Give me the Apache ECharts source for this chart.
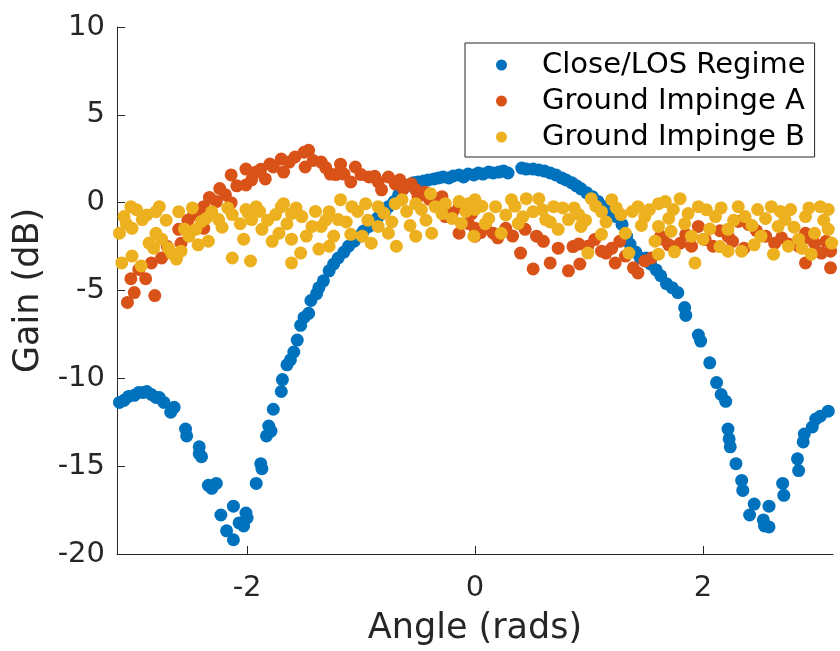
<!DOCTYPE html>
<html>
<head>
<meta charset="utf-8">
<script src="https://cdn.jsdelivr.net/npm/echarts@6/dist/echarts.min.js"></script>
<style>
html,body{margin:0;padding:0;background:#fff;}
#chart{width:840px;height:651px;}
</style>
</head>
<body>
<div id="chart"></div>
<script>
// Series names
const seriesNames = ['Close/LOS Regime', 'Ground Impinge A', 'Ground Impinge B'];
// Tick labels
const xTickValues = [-2, 0, 2];
const yTicks = [-20, -15, -10, -5, 0, 5, 10];

// Close/LOS Regime: [angle (rad), gain (dB)]
const closeLOS = [
[-3.12,-11.37],[-3.08,-11.25],[-3.04,-11.03],[-2.99,-10.97],[-2.95,-10.80],[-2.91,-10.80],[-2.88,-10.75],
[-2.84,-10.92],[-2.80,-11.09],[-2.77,-11.09],[-2.73,-11.37],[-2.67,-11.93],[-2.64,-11.65],[-2.54,-12.89],
[-2.53,-13.28],[-2.42,-13.90],[-2.42,-14.29],[-2.40,-14.46],[-2.34,-16.09],[-2.31,-16.26],[-2.27,-15.98],
[-2.23,-17.78],[-2.18,-18.68],[-2.12,-19.19],[-2.12,-17.28],[-2.07,-18.23],[-2.03,-18.40],[-2.01,-17.67],
[-2.00,-17.95],[-1.92,-15.98],[-1.88,-14.86],[-1.87,-15.14],[-1.83,-13.28],[-1.81,-12.72],[-1.79,-13.00],
[-1.77,-11.76],[-1.70,-10.75],[-1.69,-10.07],[-1.65,-9.23],[-1.62,-8.95],[-1.59,-8.50],[-1.56,-7.82],
[-1.53,-6.98],[-1.50,-6.53],[-1.46,-6.30],[-1.44,-5.57],[-1.39,-5.18],[-1.37,-4.84],[-1.33,-4.45],
[-1.28,-3.88],[-1.24,-3.49],[-1.20,-3.15],[-1.15,-2.81],[-1.11,-2.48],[-1.06,-2.19],[-1.02,-1.91],
[-0.98,-1.63],[-0.93,-1.35],[-0.91,-1.13],[-0.86,-0.90],[-0.83,-0.68],[-0.79,-0.51],[-0.76,-0.23],
[-0.71,0.06],[-0.67,0.45],[-0.63,0.79],[-0.58,1.01],[-0.54,1.13],[-0.50,1.18],[-0.45,1.24],[-0.41,1.29],
[-0.36,1.35],[-0.32,1.41],[-0.28,1.46],[-0.23,1.41],[-0.19,1.52],[-0.14,1.58],[-0.10,1.46],[-0.06,1.63],
[-0.01,1.58],[0.03,1.69],[0.07,1.63],[0.12,1.74],[0.16,1.69],[0.21,1.74],[0.25,1.80],[0.29,1.69],
[0.41,1.97],[0.45,1.91],[0.51,1.91],[0.56,1.86],[0.61,1.80],[0.66,1.69],[0.71,1.58],[0.76,1.41],
[0.80,1.29],[0.85,1.13],[0.89,0.96],[0.93,0.79],[0.98,0.56],[1.03,0.34],[1.08,0.06],[1.13,-0.23],
[1.19,-0.45],[1.24,-0.79],[1.29,-1.24],[1.33,-1.91],[1.36,-2.36],[1.41,-2.81],[1.45,-3.15],[1.50,-3.15],
[1.54,-3.49],[1.59,-3.83],[1.63,-4.16],[1.68,-4.61],[1.73,-4.84],[1.78,-5.12],[1.84,-5.97],[1.85,-6.42],
[1.96,-7.54],[1.98,-7.88],[2.06,-9.12],[2.12,-10.24],[2.16,-10.92],[2.20,-11.31],[2.22,-12.89],[2.23,-13.45],
[2.24,-13.90],[2.29,-14.86],[2.34,-15.81],[2.35,-16.38],[2.41,-17.78],[2.45,-17.16],[2.53,-18.06],
[2.54,-18.40],[2.58,-18.46],[2.58,-17.28],[2.70,-15.98],[2.71,-16.66],[2.83,-14.58],[2.84,-15.25],
[2.88,-13.62],[2.89,-13.17],[2.96,-12.77],[2.99,-12.32],[3.03,-12.16],[3.10,-11.87]
];

// Ground Impinge A
const groundA = [
[-3.05,-5.68],[-3.02,-4.33],[-2.99,-5.12],[-2.89,-4.33],[-2.84,-3.43],[-2.81,-5.29],[-2.75,-3.15],
[-2.60,-1.52],[-2.58,-2.31],[-2.47,-0.68],[-2.38,-0.23],[-2.38,-1.46],[-2.27,0.06],[-2.19,0.45],
[-2.14,0.00],[-2.14,1.58],[-2.09,0.96],[-2.01,1.01],[-2.01,1.91],[-1.92,1.74],[-1.84,1.35],[-1.77,2.03],
[-1.70,2.48],[-1.68,1.74],[-1.63,2.31],[-1.50,2.87],[-1.46,2.98],[-1.49,2.03],[-1.35,2.31],[-1.27,1.63],
[-1.18,2.19],[-1.15,1.63],[-1.09,1.18],[-1.05,2.03],[-0.93,1.46],[-0.85,1.18],[-0.82,0.73],[-0.76,1.46],
[-0.70,1.07],[-0.63,0.79],[-0.56,1.07],[-0.52,0.73],[-0.50,0.34],[-0.36,0.17],[-0.29,0.34],[-0.26,-0.79],
[-0.14,-0.23],[-0.14,-1.74],[-0.06,-1.18],[-0.03,-0.62],[0.00,-1.91],[0.00,-1.46],[0.09,-1.35],
[0.16,-1.74],[0.27,-1.46],[0.40,-2.87],[0.44,-1.52],[0.51,-3.77],[0.54,-1.91],[0.66,-3.43],[0.73,-2.59],
[0.82,-3.88],[0.91,-2.36],[0.92,-3.49],[0.99,-2.48],[1.11,-2.76],[1.15,-2.87],[1.23,-3.43],[1.32,-3.04],
[1.39,-3.71],[1.43,-4.00],[1.49,-3.32],[1.55,-3.15],[1.63,-1.91],[1.65,-2.08],[1.80,-2.31],[1.90,-2.48],
[1.96,-1.35],[2.09,-2.48],[2.22,-1.91],[2.31,-1.07],[2.40,-1.24],[2.55,-1.91],[2.63,-2.31],[2.75,-2.36],
[2.84,-2.48],[2.90,-1.74],[2.90,-3.43],[2.98,-2.31],[3.04,-2.87],[3.12,-2.76],[3.12,-3.71],
[-2.95,-3.8],[-2.70,-2.5],[-2.52,-1.0],[-2.43,-0.5],[-2.33,0.3],[-2.24,0.8],[-1.96,1.3],[-1.88,1.9],
[-1.80,2.2],[-1.58,2.6],[-1.42,2.4],[-1.31,2.0],[-1.22,1.6],[-1.00,1.6],[-0.88,1.5],[-0.66,1.3],
[-0.44,0.6],[-0.40,0.2],[-0.20,-0.6],[0.05,-1.7],[0.20,-2.0],[0.33,-1.9],[0.60,-2.2],[0.86,-2.5],
[1.05,-2.1],[1.20,-2.6],[1.27,-2.2],[1.70,-2.4],[2.02,-2.1],[2.15,-1.6],[2.26,-2.2],[2.47,-1.6],
[2.69,-2.0],[3.08,-2.2],[2.93,-2.0],[1.85,-1.8],[2.36,-2.6]
];

// Ground Impinge B
const groundB = [
[-3.12,-1.74],[-3.10,-3.43],[-3.08,-0.79],[-3.02,-0.23],[-3.01,-1.46],[-3.01,-3.04],[-2.93,-3.60],
[-2.92,-0.96],[-2.82,-2.59],[-2.80,-0.51],[-2.80,-1.74],[-2.77,-0.23],[-2.75,-2.08],[-2.69,-2.59],
[-2.62,-3.21],[-2.60,-0.51],[-2.58,-2.76],[-2.51,-1.91],[-2.45,-1.52],[-2.40,-1.07],[-2.34,-2.19],
[-2.31,-0.51],[-2.25,-0.96],[-2.13,-0.68],[-2.13,-3.15],[-2.03,-2.08],[-2.01,-0.39],[-1.97,-3.32],
[-1.96,-0.96],[-1.92,-0.23],[-1.87,-1.52],[-1.75,-0.68],[-1.72,-1.74],[-1.68,-0.06],[-1.70,-0.23],
[-1.61,-0.62],[-1.61,-2.08],[-1.61,-3.43],[-1.53,-2.87],[-1.52,-0.79],[-1.43,-1.35],[-1.37,-2.64],
[-1.35,-1.35],[-1.28,-2.48],[-1.28,-0.51],[-1.20,-0.96],[-1.18,0.17],[-1.09,-1.80],[-1.08,-0.23],
[-0.99,-1.91],[-0.96,-0.06],[-0.91,-2.31],[-0.85,-0.23],[-0.85,-1.35],[-0.76,-1.74],[-0.70,-0.06],
[-0.69,-2.48],[-0.64,0.17],[-0.52,-1.91],[-0.52,-0.06],[-0.47,-0.39],[-0.39,0.51],[-0.38,-1.74],
[-0.35,-0.23],[-0.29,-0.62],[-0.26,-0.06],[-0.14,0.06],[-0.12,-1.18],[-0.06,-0.06],[-0.01,-1.91],
[0.00,0.17],[0.00,-0.39],[0.12,-0.90],[0.18,-0.23],[0.23,-1.74],[0.32,0.17],[0.38,-1.18],[0.45,0.23],
[0.51,-0.51],[0.56,0.23],[0.62,-0.96],[0.69,-0.23],[0.73,-1.52],[0.82,-0.96],[0.91,-0.68],[0.93,-1.35],
[0.99,-2.87],[1.02,0.23],[1.11,-0.51],[1.11,-1.80],[1.20,0.17],[1.28,-0.68],[1.32,-1.74],[1.35,-2.87],
[1.43,-0.23],[1.49,-0.79],[1.58,-2.19],[1.61,-2.93],[1.61,-0.06],[1.61,-1.35],[1.67,0.06],[1.72,-1.63],
[1.74,-0.39],[1.80,0.23],[1.87,-0.62],[1.90,-1.91],[1.93,-3.43],[1.96,-0.23],[2.00,-2.08],[2.11,-0.79],
[2.22,-1.52],[2.22,-2.76],[2.31,-0.23],[2.34,-2.76],[2.37,-0.79],[2.48,-0.39],[2.51,-1.91],[2.60,-0.23],
[2.62,-2.93],[2.66,-1.35],[2.72,-0.96],[2.75,-2.48],[2.77,-0.39],[2.84,-2.08],[2.90,-0.79],[2.95,-2.93],
[2.98,-1.74],[3.03,-0.23],[3.10,-0.39],[3.10,-1.52],
[-3.06,-1.2],[-2.97,-0.4],[-2.88,-0.7],[-2.86,-2.3],[-2.71,-1.0],[-2.66,-2.9],[-2.55,-1.5],[-2.48,-0.3],
[-2.43,-2.4],[-2.36,-0.9],[-2.22,-1.4],[-2.17,-0.3],[-2.06,-1.2],[-1.99,-0.6],[-1.89,-0.5],[-1.82,-1.0],
[-1.78,-2.2],[-1.65,-1.2],[-1.57,-0.3],[-1.48,-1.9],[-1.40,-0.5],[-1.31,-1.0],[-1.24,-1.9],[-1.13,-1.1],
[-1.03,-0.5],[-0.94,-1.0],[-0.80,-0.6],[-0.73,-1.1],[-0.60,-0.5],[-0.57,-1.3],[-0.43,-1.0],[-0.31,-0.3],
[-0.20,-0.9],[-0.08,-0.5],[0.06,-0.2],[0.09,-1.2],[0.27,-0.7],[0.35,-0.2],[0.42,-0.8],[0.59,-0.4],
[0.66,-1.1],[0.77,-0.3],[0.87,-0.3],[0.97,-1.0],[1.06,-0.2],[1.15,-1.1],[1.24,-0.3],[1.38,-0.5],
[1.46,-1.3],[1.53,-0.4],[1.70,-0.9],[1.84,-1.2],[2.03,-0.4],[2.06,-1.5],[2.16,-0.3],[2.27,-1.0],
[2.43,-1.3],[2.55,-0.9],[2.68,-0.5],[2.80,-1.4],[2.93,-0.3],[3.06,-1.0],[2.45,-2.4],[2.87,-2.6],
[3.13,-2.3],[1.75,-2.8],[2.15,-2.5]
];

const colors = ['#0072BD', '#D95319', '#EDB120'];
const font = 'DejaVu Sans';

const chart = echarts.init(document.getElementById('chart'), null, {renderer: 'canvas'});
const axisCommon = {
  axisLine: {show: true, onZero: false, lineStyle: {color: '#262626', width: 1}},
  axisTick: {show: true, inside: true, length: 8, lineStyle: {color: '#262626', width: 1}},
  splitLine: {show: false},
  nameTextStyle: {fontFamily: font, fontSize: 35, color: '#262626'},
  axisLabel: {fontFamily: font, fontSize: 29, color: '#262626'}
};
chart.setOption({
  animation: false,
  backgroundColor: '#fff',
  grid: {left: 117, right: 7, top: 27, bottom: 90, containLabel: false},
  xAxis: Object.assign({}, axisCommon, {
    type: 'value', min: -Math.PI, max: Math.PI,
    name: 'Angle (rads)', nameLocation: 'middle', nameGap: 57,
    axisTick: Object.assign({}, axisCommon.axisTick, {customValues: xTickValues}),
    axisLabel: Object.assign({}, axisCommon.axisLabel, {customValues: xTickValues, margin: 20, formatter: v => String(v)})
  }),
  yAxis: Object.assign({}, axisCommon, {
    type: 'value', min: yTicks[0], max: yTicks[yTicks.length - 1], interval: 5,
    name: 'Gain (dB)', nameLocation: 'middle', nameGap: 66,
    axisLabel: Object.assign({}, axisCommon.axisLabel, {margin: 12})
  }),
  legend: {
    orient: 'vertical', left: 465, top: 43,
    padding: [4, 9, 2, 31], itemGap: 0,
    itemWidth: 11, itemHeight: 11,
    borderColor: '#262626', borderWidth: 1, backgroundColor: '#fff',
    textStyle: {fontFamily: font, fontSize: 29, color: '#000', lineHeight: 36, padding: [0, 0, 0, 30]},
    data: seriesNames.map(n => ({name: n, icon: 'circle'}))
  },
  series: [
    {name: seriesNames[0], type: 'scatter', data: closeLOS, symbolSize: 13, itemStyle: {color: colors[0], opacity: 1}, z: 2},
    {name: seriesNames[1], type: 'scatter', data: groundA, symbolSize: 13, itemStyle: {color: colors[1], opacity: 1}, z: 3},
    {name: seriesNames[2], type: 'scatter', data: groundB, symbolSize: 13, itemStyle: {color: colors[2], opacity: 1}, z: 4}
  ]
});
</script>
</body>
</html>
